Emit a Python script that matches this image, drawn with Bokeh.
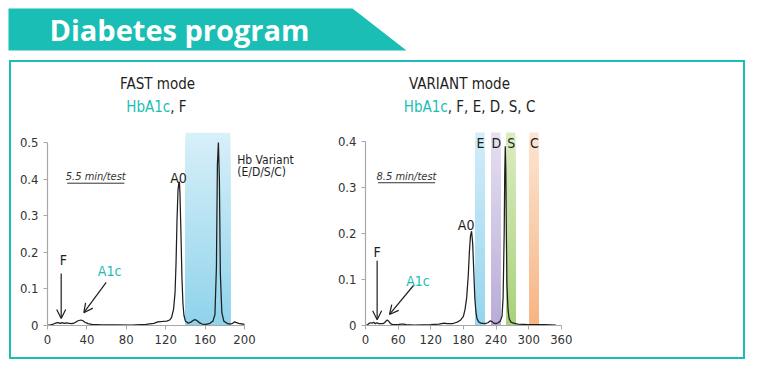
from bokeh.plotting import figure
from bokeh.layouts import column, row
from bokeh.models import Range1d, FixedTicker, Label, Arrow, OpenHead
from bokeh.embed import file_html
from bokeh.resources import INLINE

TEAL = "#1ABEB5"
INK = "#1e1e1e"
FONT = "DejaVu Sans Condensed"

# ---------------- data ----------------
fast_time = [0, 3, 6, 9, 11, 13, 15, 17, 19, 22, 25, 28, 31, 34, 36, 38, 41, 45, 55, 70, 85, 100,
             108, 112, 117, 121, 124, 126, 128, 129.5, 130.5, 131.5, 132.5, 133.5, 134, 134.5, 135.5,
             136.5, 137.5, 138.5, 140, 143, 146, 149, 151, 154, 157, 161, 165, 168, 170, 171.5,
             172.5, 173.5, 174.5, 175.5, 177, 179, 183, 186, 188, 190, 194, 200]
fast_abs = [0.001, 0.002, 0.004, 0.007, 0.008, 0.006, 0.008, 0.006, 0.007, 0.006, 0.005, 0.008,
            0.013, 0.015, 0.013, 0.009, 0.005, 0.003, 0.002, 0.002, 0.001, 0.003,
            0.006, 0.010, 0.011, 0.012, 0.015, 0.022, 0.045, 0.09, 0.17, 0.29, 0.37, 0.393, 0.39,
            0.36, 0.25, 0.13, 0.06, 0.028, 0.012, 0.006, 0.010, 0.016, 0.015, 0.008, 0.004, 0.003,
            0.006, 0.012, 0.03, 0.16, 0.44, 0.50, 0.40, 0.14, 0.035, 0.012, 0.005, 0.004, 0.006,
            0.010, 0.006, 0.003]
fast_xticks = [0, 40, 80, 120, 160, 200]
fast_yticks = [0, 0.1, 0.2, 0.3, 0.4, 0.5]
fast_ytick_labels = ["0", "0.1", "0.2", "0.3", "0.4", "0.5"]
fast_band_start = 140
fast_band_end = 185.5
fast_band_top = 0.527

variant_time = [0, 3, 6, 9, 12, 15, 18, 21, 24, 28, 32, 35, 38, 40, 43, 46, 50, 60, 65, 70, 75, 90,
                120, 135, 140, 145, 150, 160, 165, 170, 175, 180, 183, 186, 189, 191, 193, 195, 197,
                199, 201, 203, 205, 208, 212, 220, 225, 229, 232, 236, 240, 244, 248, 251, 253, 255,
                256, 257, 258, 259, 260, 262, 264, 267, 272, 280, 300, 330, 350]
variant_abs = [0.0, 0.001, 0.004, 0.006, 0.005, 0.007, 0.004, 0.006, 0.004, 0.004, 0.004, 0.006,
               0.010, 0.012, 0.009, 0.004, 0.002, 0.002, 0.003, 0.003, 0.002, 0.001,
               0.002, 0.003, 0.004, 0.005, 0.004, 0.004, 0.006, 0.008, 0.012, 0.02, 0.035, 0.06,
               0.11, 0.16, 0.195, 0.205, 0.18, 0.12, 0.06, 0.03, 0.015, 0.008, 0.005, 0.004, 0.006,
               0.010, 0.009, 0.005, 0.004, 0.006, 0.010, 0.02, 0.06, 0.20, 0.33, 0.39, 0.34, 0.20,
               0.09, 0.035, 0.015, 0.008, 0.005, 0.003, 0.002, 0.002, 0.001]
variant_xticks = [0, 60, 120, 180, 240, 300, 360]
variant_yticks = [0, 0.1, 0.2, 0.3, 0.4]
variant_ytick_labels = ["0", "0.1", "0.2", "0.3", "0.4"]
variant_band_names = ["E", "D", "S", "C"]
variant_band_start = [202, 231, 258.5, 301.5]
variant_band_end = [219, 248, 275.5, 318]
variant_band_top = 0.42
variant_band_top_colors = ["#d3edf8", "#e6e0f1", "#dcecc2", "#fde5d3"]
variant_band_bottom_colors = ["#94d5ee", "#b9abd9", "#a7d17a", "#f7b483"]


def hex2rgb(h):
    h = h.lstrip("#")
    return [int(h[i:i + 2], 16) for i in (0, 2, 4)]


def mix(c0, c1, t):
    a, b = hex2rgb(c0), hex2rgb(c1)
    return "#" + "".join(f"{round(a[i] + (b[i] - a[i]) * t):02x}" for i in range(3))


def gradient_band(p, x0, x1, top, c_bottom, c_top, n=40):
    # nested quads, tallest first, so later (shorter) ones paint over the lower part:
    # gives a seamless vertical gradient
    lefts, rights, bottoms, tops, cols = [], [], [], [], []
    for k in range(n, 0, -1):
        lefts.append(x0)
        rights.append(x1)
        bottoms.append(0)
        tops.append(top * k / n)
        cols.append(mix(c_bottom, c_top, (k - 0.5) / n))
    p.quad(left=lefts, right=rights, bottom=bottoms, top=tops, fill_color=cols,
           line_color=None)


def base_chart(width, height, xr, yr, xticks, yticks, ylabels, xmax, ymax):
    p = figure(width=width, height=height, x_range=Range1d(*xr), y_range=Range1d(*yr),
               output_backend="svg", toolbar_location=None,
               min_border_left=36, min_border_right=0, min_border_top=0, min_border_bottom=32)
    p.outline_line_color = None
    p.xgrid.visible = False
    p.ygrid.visible = False
    p.background_fill_color = "white"
    p.border_fill_color = "white"
    for ax in (p.xaxis, p.yaxis):
        ax.axis_line_color = "#a8a8a8"
        ax.axis_line_width = 1.2
        ax.major_tick_line_color = "#a8a8a8"
        ax.major_tick_out = 4
        ax.major_tick_in = 0
        ax.minor_tick_line_color = None
        ax.major_label_text_font = FONT
        ax.major_label_text_font_size = "13px"
        ax.major_label_text_color = "#333333"
    p.xaxis.ticker = FixedTicker(ticks=xticks)
    p.yaxis.ticker = FixedTicker(ticks=yticks)
    p.yaxis.major_label_overrides = {t: l for t, l in zip(yticks, ylabels)}
    p.xaxis.bounds = (0, xmax)
    p.yaxis.bounds = (0, ymax)
    p.xaxis.major_label_standoff = 5
    p.yaxis.major_label_standoff = 5
    return p


def lab(p, x, y, text, size="14px", color=INK, align="center", style="normal"):
    p.add_layout(Label(x=x, y=y, text=text, text_align=align, text_baseline="middle",
                       text_font=FONT, text_font_size=size, text_color=color,
                       text_font_style=style))


def arrow(p, x0, y0, x1, y1):
    p.add_layout(Arrow(x_start=x0, y_start=y0, x_end=x1, y_end=y1,
                       line_color=INK, line_width=1.2,
                       end=OpenHead(size=9, line_color=INK, line_width=1.2)))


# ---------------- left chart ----------------
left = base_chart(318, 295, (0, 286.3), (0, 0.719), fast_xticks, fast_yticks,
                  fast_ytick_labels, 200, 0.5)
gradient_band(left, fast_band_start, fast_band_end, fast_band_top, "#8fd3eb", "#d8f0f9")
left.line(fast_time, fast_abs, line_color=INK, line_width=1.25)
lab(left, 111.7, 0.661, "FAST mode", "15px")
lab(left, 124.6, 0.598, "HbA1c", "15px", TEAL, "right")
lab(left, 124.6, 0.598, ", F", "15px", INK, "left")
lab(left, 49, 0.407, "5.5 min/test", "11px", "#333333", "center", "italic")
left.segment(x0=[20], y0=[0.389], x1=[78], y1=[0.389], line_color="#333333", line_width=1)
lab(left, 133, 0.404, "A0", "14px")
lab(left, 192.6, 0.452, "Hb Variant", "12px", INK, "left")
lab(left, 192.6, 0.421, "(E/D/S/C)", "12px", INK, "left")
lab(left, 16, 0.178, "F", "14px")
arrow(left, 13.9, 0.142, 13.9, 0.019)
lab(left, 63, 0.148, "A1c", "14px", TEAL)
arrow(left, 59.6, 0.118, 36.9, 0.035)

# ---------------- right chart ----------------
right = base_chart(414, 295, (0, 695), (0, 0.572), variant_xticks, variant_yticks,
                   variant_ytick_labels, 360, 0.4)
for i, name in enumerate(variant_band_names):
    gradient_band(right, variant_band_start[i], variant_band_end[i], variant_band_top,
                  variant_band_bottom_colors[i], variant_band_top_colors[i])
    lab(right, (variant_band_start[i] + variant_band_end[i]) / 2 + 1, 0.398, name, "14px")
right.line(variant_time, variant_abs, line_color=INK, line_width=1.25)
lab(right, 172.8, 0.526, "VARIANT mode", "15px")
lab(right, 151.3, 0.476, "HbA1c", "15px", TEAL, "right")
lab(right, 151.3, 0.476, ", F, E, D, S, C", "15px", INK, "left")
lab(right, 75.4, 0.323, "8.5 min/test", "11px", "#333333", "center", "italic")
right.segment(x0=[23], y0=[0.3105], x1=[128], y1=[0.3105], line_color="#333333", line_width=1)
lab(right, 185, 0.219, "A0", "14px")
lab(right, 21.4, 0.159, "F", "14px")
arrow(right, 21.4, 0.141, 21.4, 0.0124)
lab(right, 96.5, 0.096, "A1c", "14px", TEAL)
arrow(right, 88.2, 0.087, 44.1, 0.024)

# ---------------- banner ----------------
banner = figure(width=752, height=53, x_range=Range1d(0, 752), y_range=Range1d(0, 53),
                output_backend="svg", toolbar_location=None,
                min_border=0, x_axis_type=None, y_axis_type=None)
banner.outline_line_color = None
banner.xgrid.visible = False
banner.ygrid.visible = False
banner.patch([1, 345, 399, 1], [52, 52, 10, 10], fill_color=TEAL, line_color=None)
banner.add_layout(Label(x=42, y=31, text="Diabetes program", text_align="left",
                        text_baseline="middle", text_font="Open Sans",
                        text_font_style="bold", text_font_size="29px", text_color="white"))

box = row(left, right, styles={"border": f"2px solid {TEAL}"}, margin=(0, 0, 0, 2))
page = column(banner, box, spacing=0, margin=(7, 0, 0, 7))

open("out.html", "w").write(file_html(page, INLINE))
